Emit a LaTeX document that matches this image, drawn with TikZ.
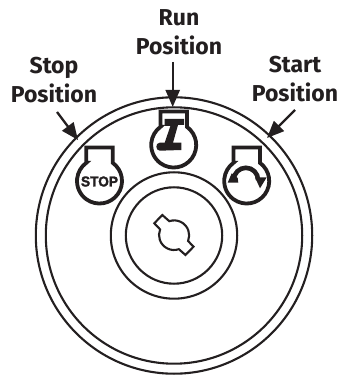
\documentclass[tikz,border=0pt]{standalone}
\usepackage{fontspec}
\usepackage{graphicx}
\setmainfont{Fira Sans}
\newfontfamily\stopfont[FakeBold=2]{Liberation Sans}
\usetikzlibrary{arrows.meta}
\definecolor{ink}{HTML}{231F20}
\tikzset{
  x=1pt,y=1pt,
  ring/.style={draw=ink,line width=2.1pt},
  label text/.style={font=\bfseries\fontsize{23}{29}\selectfont,text=ink,align=center,inner sep=0pt},
  pointer/.style={draw=ink,line width=2.3pt,-{Triangle[length=17pt,width=14pt,fill=ink]}},
  icon outline/.style={draw=ink,line width=3.8pt,line join=miter},
  icon/.pic={
    \path[icon outline] (-13.2,18.2) -- (-13.2,33.5) -- (13.2,33.5) -- (13.2,18.2)
      arc[start angle=54.1,end angle=-234.1,radius=22.5] -- cycle;
  }
}
\begin{document}
\begin{tikzpicture}
\useasboundingbox (0,0) rectangle (340,375);
% dial
\draw[ring] (174,139.5) circle[radius=138.2];
\draw[ring] (174,139.5) circle[radius=128.2];
\draw[ring] (174,139.5) circle[radius=63.2];
\draw[ring] (174,139.5) circle[radius=48.2];
% key slot
\draw[ring,line join=miter] (174,140) ++(-11.7,20) -- ++(7,-6.2)
  arc[start angle=109,end angle=-22,radius=15] -- (193.5,128.3) -- (185.5,120)
  -- ++(-6.6,5.8) arc[start angle=-71,end angle=-202,radius=15] -- (154.3,151.7) -- cycle;
% icons
\pic at (99.5,194) {icon};
\pic at (173.7,230) {icon};
\pic at (246.7,194) {icon};
% stop icon text
\node[inner sep=0pt,text=ink] (stoptext) at (99.5,193.5)
  {\resizebox{37pt}{10pt}{\stopfont\bfseries STOP}};
% run glyph
\begin{scope}[shift={(173.7,230)}]
\fill[ink] (-9,26) -- (10.3,26) -- (10.3,20) -- (4.3,20) -- (-0.7,2.3) -- (7.7,2.3)
  -- (7.7,-5) -- (-14,-5.7) .. controls (-18.5,-5.5) and (-18.5,2.3) .. (-14,2.3)
  -- (-9,2.3) -- (-3.3,19) -- (-9,19) -- cycle;
\end{scope}
% start glyph
\begin{scope}[shift={(246.7,194)}]
\draw[ink,line width=4.6pt] (-13,1) arc[start angle=180,end angle=0,radius=12.2];
\fill[ink] (-19,-1.7) -- (-8.4,-1.7) -- (-9,3) -- (-15,7.7) -- cycle;
\fill[ink] (8.3,3.7) -- (20,3.7) -- (13.3,-7.3) -- cycle;
\end{scope}
% labels
\node[label text] (runlabel) at (179,342.5) {Run\\Position};
\node[label text] (stoplabel) at (54,295) {Stop\\Position};
\node[label text] (startlabel) at (295,296) {Start\\Position};
% pointers
\coordinate (runtail) at (172.7,313);
\coordinate (runtip) at (172.7,268);
\coordinate (stoptail) at (57,263);
\coordinate (stoptip) at (78,235);
\coordinate (starttail) at (295,265);
\coordinate (starttip) at (267,237);
\draw[pointer] (runtail) -- (runtip);
\draw[pointer] (stoptail) -- (stoptip);
\draw[pointer] (starttail) -- (starttip);
\end{tikzpicture}
\end{document}
